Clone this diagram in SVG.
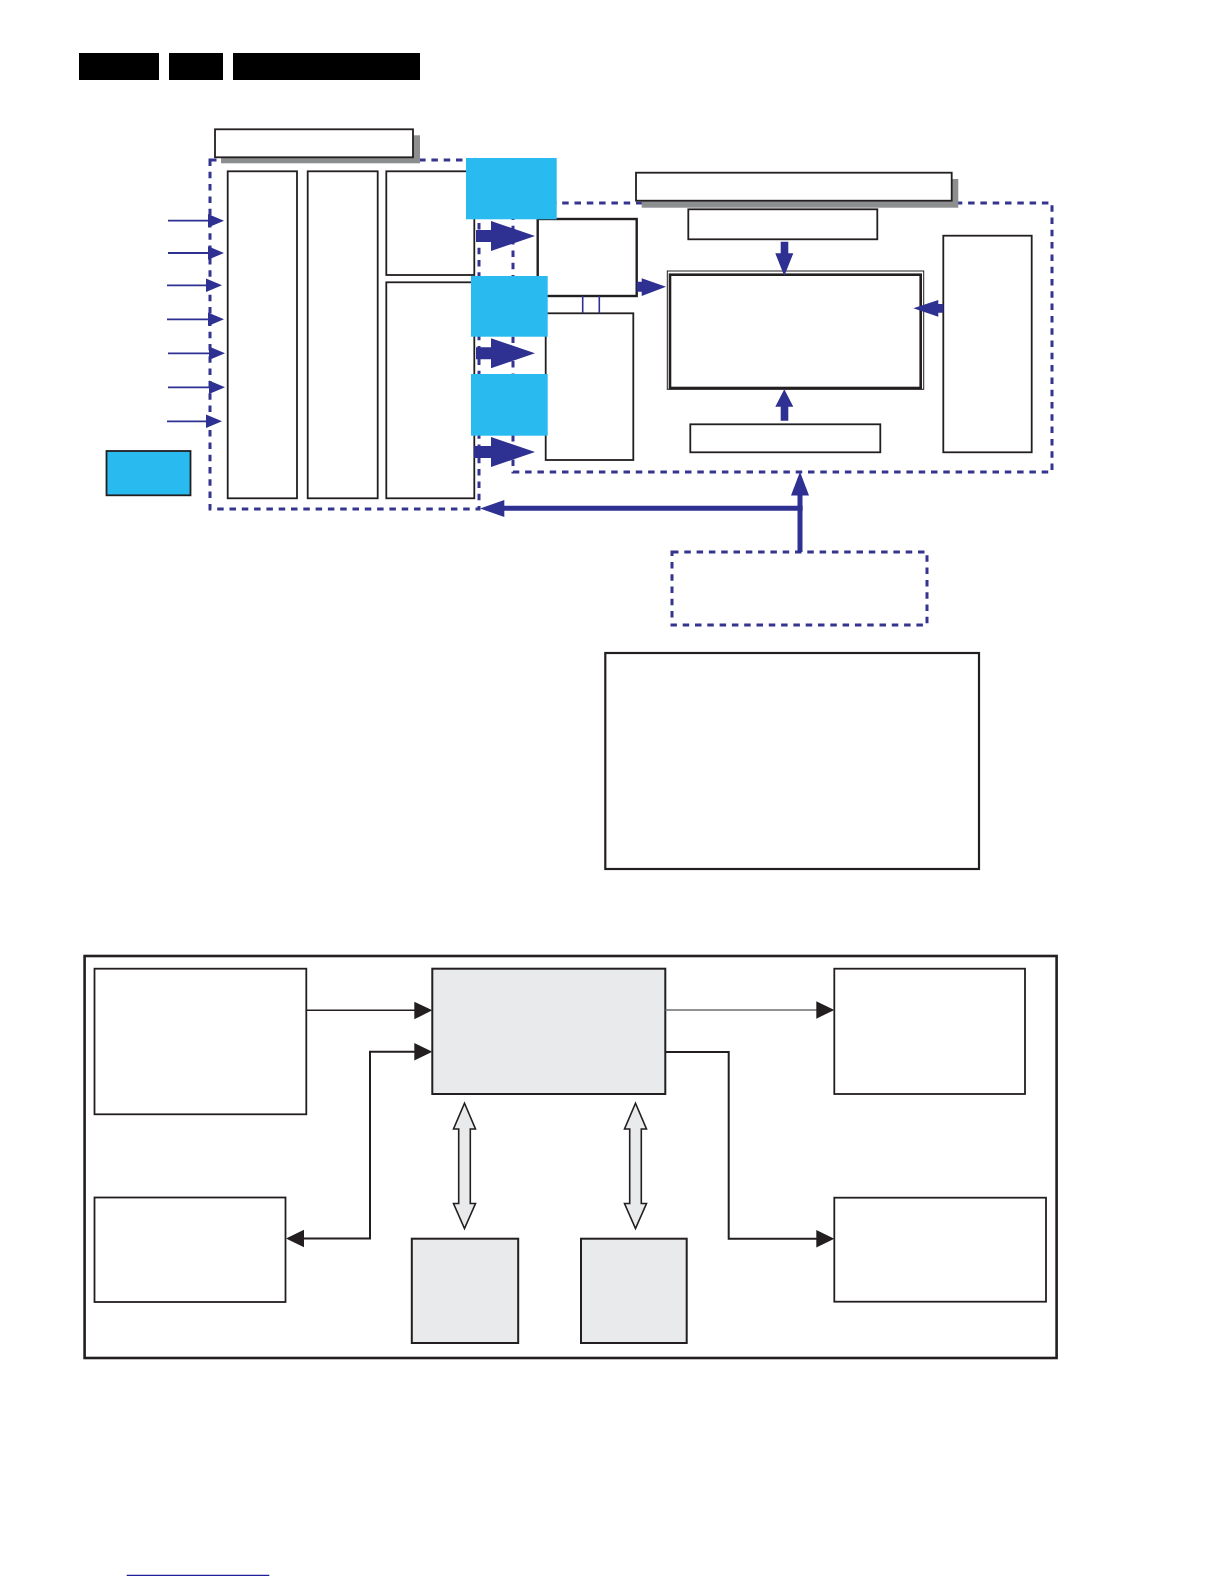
<svg xmlns="http://www.w3.org/2000/svg" width="1224" height="1584" viewBox="0 0 1224 1584">
<style>
.blk{fill:#fff;stroke:#231f20;stroke-width:1.8}
.thk{fill:#fff;stroke:#231f20;stroke-width:2.4}
.gry{fill:#e9eaeb;stroke:#231f20;stroke-width:2}
.sh{fill:#8c8e90}
.cy{fill:#29bbef}
.dash{fill:none;stroke:#35358f;stroke-width:3;stroke-dasharray:6.5 5.8}
.bl{fill:#2e3192}
.bline{stroke:#2e3192;fill:none}
.kline{stroke:#231f20;fill:none}
.kh{fill:#231f20}
</style>
<rect width="1224" height="1584" fill="#fff"/>
<g id="header">
<rect x="79" y="53" width="80" height="27" fill="#000"/>
<rect x="169" y="53" width="54" height="27" fill="#000"/>
<rect x="233" y="53" width="187" height="27" fill="#000"/>
</g>
<g id="dashed-groups">
<rect class="dash" x="210" y="160" width="269" height="349"/>
<rect class="dash" x="513" y="203" width="539" height="269"/>
<rect class="dash" x="672" y="552" width="255" height="73"/>
</g>
<g id="title-left"><rect class="sh" x="221" y="135.3" width="199" height="28"/><rect class="blk" x="215" y="129.3" width="198" height="28" stroke-width="2"/></g>
<g id="title-right"><rect class="sh" x="641.7" y="179" width="316.6" height="28.7"/><rect class="blk" x="636" y="172.7" width="315.7" height="28" stroke-width="2"/></g>
<g id="col1"><rect class="blk" x="227.7" y="171.3" width="69.3" height="327"/></g>
<g id="col2"><rect class="blk" x="307.7" y="171.3" width="70" height="327"/></g>
<g id="col3-top"><rect class="blk" x="386.3" y="171.3" width="88" height="103.7"/></g>
<g id="col3-bottom"><rect class="blk" x="386.3" y="282.3" width="88" height="216"/></g>
<g id="boxA"><rect class="thk" x="537.7" y="219" width="99" height="77"/></g>
<g id="boxB"><rect class="blk" x="545.7" y="313.3" width="87.6" height="146.7"/></g>
<g id="main-box"><rect x="667.3" y="271" width="256.4" height="118.3" fill="#fff" stroke="#231f20" stroke-width="1"/><rect x="670" y="274.7" width="250.7" height="113.3" fill="none" stroke="#231f20" stroke-width="2.6"/></g>
<g id="top-small"><rect class="blk" x="688.3" y="209.3" width="189" height="30" stroke-width="2"/></g>
<g id="bottom-small"><rect class="blk" x="690.3" y="424.3" width="190" height="28" stroke-width="1.6"/></g>
<g id="right-tall"><rect class="blk" x="943.3" y="235.7" width="88.4" height="216.6" stroke-width="1.6"/></g>
<g id="large-box"><rect x="605.3" y="653" width="373.7" height="216" fill="#fff" stroke="#231f20" stroke-width="2.2"/></g>
<g id="blue1"><rect class="cy" x="466" y="158" width="90.7" height="61.3"/></g>
<g id="blue2"><rect class="cy" x="471" y="276" width="76.7" height="60.7"/></g>
<g id="blue3"><rect class="cy" x="471" y="374" width="76.7" height="61.7"/></g>
<g id="blue-small"><rect x="106.5" y="451" width="84" height="44.3" fill="#29bbef" stroke="#231f20" stroke-width="1.8"/></g>
<g id="connectors-top">
<g class="bline" stroke-width="1.8">
<line x1="168" y1="220.7" x2="210" y2="220.7"/>
<line x1="168" y1="253" x2="210" y2="253"/>
<line x1="167" y1="285.3" x2="209" y2="285.3"/>
<line x1="167" y1="319.3" x2="210" y2="319.3"/>
<line x1="168" y1="353.3" x2="210" y2="353.3"/>
<line x1="168" y1="387.3" x2="210" y2="387.3"/>
<line x1="167" y1="421.3" x2="209" y2="421.3"/>
</g>
<g class="bl">
<polygon points="208,214 208,227.4 224,220.7"/>
<polygon points="208,246.3 208,259.7 224,253"/>
<polygon points="206,278.6 206,292 222,285.3"/>
<polygon points="208,312.6 208,326 224,319.3"/>
<polygon points="209,346.6 209,360 225,353.3"/>
<polygon points="209,380.6 209,394 225,387.3"/>
<polygon points="206,414.6 206,428 222,421.3"/>
</g>
<g class="bl">
<polygon points="476,230 491,230 491,221 535,236 491,251 491,242 476,242"/>
<polygon points="476,347.3 491,347.3 491,338.3 535,353.3 491,368.3 491,359.3 476,359.3"/>
<polygon points="474,446 491,446 491,437 535,452 491,467 491,458 474,458"/>
<polygon points="636.7,281.7 641.7,281.7 641.7,278.3 666,286.7 641.7,296 641.7,291.7 636.7,291.7"/>
<polygon points="780.7,241.7 788.3,241.7 788.3,253.3 793.3,253.3 784.3,276 775.3,253.3 780.7,253.3"/>
<polygon points="780.7,420.7 788.3,420.7 788.3,406.7 793.3,406.7 784.3,389.3 775.3,406.7 780.7,406.7"/>
<polygon points="943.3,304 938.3,304 938.3,300 913.3,308.3 938.3,316.7 938.3,312.7 943.3,312.7"/>
</g>
<g class="bline" stroke-width="1.6">
<line x1="582.7" y1="296" x2="582.7" y2="313.3"/>
<line x1="599.3" y1="296" x2="599.3" y2="313.3"/>
</g>
<g class="bline" stroke-width="5">
<line x1="800" y1="552" x2="800" y2="494"/>
<line x1="802.5" y1="508.3" x2="502" y2="508.3"/>
</g>
<g class="bl">
<polygon points="791,495.5 809,495.5 800,471.7"/>
<polygon points="504.3,500 504.3,517 480,508.4"/>
</g>
</g>
<g id="frame"><rect x="84.6" y="956" width="972" height="402" fill="none" stroke="#231f20" stroke-width="2.6"/></g>
<g id="b-tl"><rect class="blk" x="94.5" y="968.7" width="211.8" height="145.6" stroke-width="1.6"/></g>
<g id="b-center"><rect class="gry" x="432.3" y="968.7" width="233" height="125.3"/></g>
<g id="b-tr"><rect class="blk" x="834.3" y="968.7" width="190.7" height="125.3" stroke-width="2"/></g>
<g id="b-bl"><rect class="blk" x="94.5" y="1197.5" width="191" height="104.5" stroke-width="2"/></g>
<g id="b-br"><rect class="blk" x="834.3" y="1197.7" width="211.7" height="104" stroke-width="2"/></g>
<g id="b-bot1"><rect class="gry" x="411.8" y="1238.7" width="106.4" height="104.3"/></g>
<g id="b-bot2"><rect class="gry" x="581" y="1238.7" width="105.7" height="104.3"/></g>
<g id="connectors-bottom">
<line class="kline" x1="306.3" y1="1010.3" x2="415" y2="1010.3" stroke-width="1.4"/>
<polygon class="kh" points="414.3,1001.7 414.3,1019.3 432.3,1010.3"/>
<line x1="665.3" y1="1010" x2="817" y2="1010" stroke="#6d6e71" stroke-width="1.6"/>
<polygon class="kh" points="816.3,1001.3 816.3,1018.7 834.3,1010"/>
<path class="kline" d="M415,1051.7 H370 V1238.5 H303" stroke-width="2"/>
<polygon class="kh" points="414.3,1043 414.3,1060.5 432.3,1051.7"/>
<polygon class="kh" points="304,1229.8 304,1247.3 286,1238.5"/>
<path class="kline" d="M665.3,1052 H728.7 V1238.7 H817" stroke-width="2"/>
<polygon class="kh" points="816.3,1230 816.3,1247.5 834.3,1238.7"/>
<polygon points="464.5,1103.3 475.5,1129 470.3,1129 470.3,1203.5 475.5,1203.5 464.5,1228.5 453.5,1203.5 458.7,1203.5 458.7,1129 453.5,1129" fill="#e9eaeb" stroke="#231f20" stroke-width="1.6" stroke-linejoin="miter"/>
<polygon points="635.5,1103.3 646.5,1129 641.3,1129 641.3,1203.5 646.5,1203.5 635.5,1228.5 624.5,1203.5 629.7,1203.5 629.7,1129 624.5,1129" fill="#e9eaeb" stroke="#231f20" stroke-width="1.6" stroke-linejoin="miter"/>
</g>
<g id="footer"><line x1="126.7" y1="1575.3" x2="269.3" y2="1575.3" stroke="#1f1f99" stroke-width="1.3"/></g>
</svg>
